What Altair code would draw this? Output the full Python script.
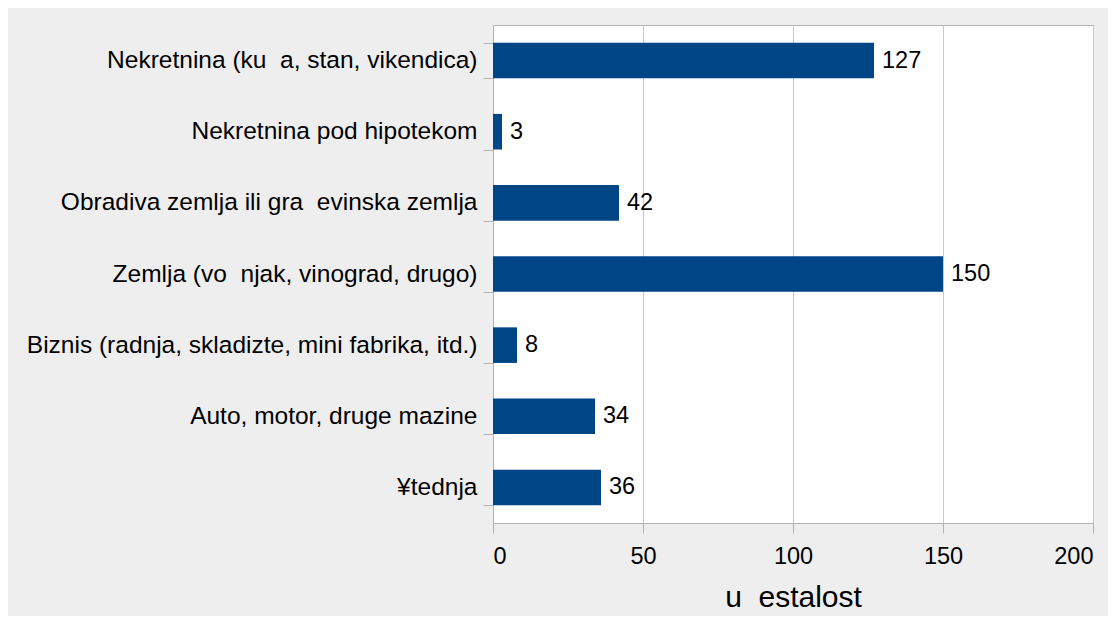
import altair as alt
import pandas as pd

categories = [
    "Nekretnina (ku\u00a0\u00a0a, stan, vikendica)",
    "Nekretnina pod hipotekom",
    "Obradiva zemlja ili gra\u00a0\u00a0evinska zemlja",
    "Zemlja (vo\u00a0\u00a0njak, vinograd, drugo)",
    "Biznis (radnja, skladizte, mini fabrika, itd.)",
    "Auto, motor, druge mazine",
    "\u00a5tednja",
]
values = [127, 3, 42, 150, 8, 34, 36]
x_ticks = [0, 50, 100, 150, 200]

df = pd.DataFrame({"cat": categories, "val": values})

FONT = "Liberation Sans"

y_enc = alt.Y(
    "cat:N",
    sort=categories,
    title=None,
    scale=alt.Scale(paddingInner=0.5, paddingOuter=0.25),
    axis=alt.Axis(
        tickBand="extent",
        tickSize=10,
        tickColor="#b3b3b3",
        domainColor="#b3b3b3",
        labelPadding=6,
        labelFontSize=24.5,
        labelFont=FONT,
        labelColor="#000000",
        labelLimit=700,
        grid=False,
    ),
)

x_enc = alt.X(
    "val:Q",
    title="u\u00a0\u00a0estalost",
    scale=alt.Scale(domain=[0, 200], nice=False),
    axis=alt.Axis(
        values=x_ticks,
        tickSize=10,
        tickColor="#b3b3b3",
        domainColor="#b3b3b3",
        gridColor="#c8c8c8",
        labelPadding=11,
        labelFontSize=23.5,
        labelFont=FONT,
        labelColor="#000000",
        titleFont=FONT,
        titleFontSize=30,
        titleFontWeight="normal",
        titleColor="#000000",
        titlePadding=15,
    ),
)

bars = alt.Chart(df).mark_bar(color="#004586").encode(x=x_enc, y=y_enc)
labels = alt.Chart(df).mark_text(
    align="left", baseline="middle", dx=8, fontSize=23.5, font=FONT, color="#000000"
).encode(x="val:Q", y=alt.Y("cat:N", sort=categories), text="val:Q")

chart = (
    alt.layer(bars, labels)
    .properties(
        width=600,
        height=498,
        autosize=alt.AutoSizeParams(type="none"),
        padding={"left": 485, "top": 17, "right": 15, "bottom": 93},
        background="#eeeeee",
    )
    .configure_view(stroke="#b3b3b3", fill="#ffffff")
)

chart.save("out.html", embed_options={"renderer": "svg", "actions": False})
